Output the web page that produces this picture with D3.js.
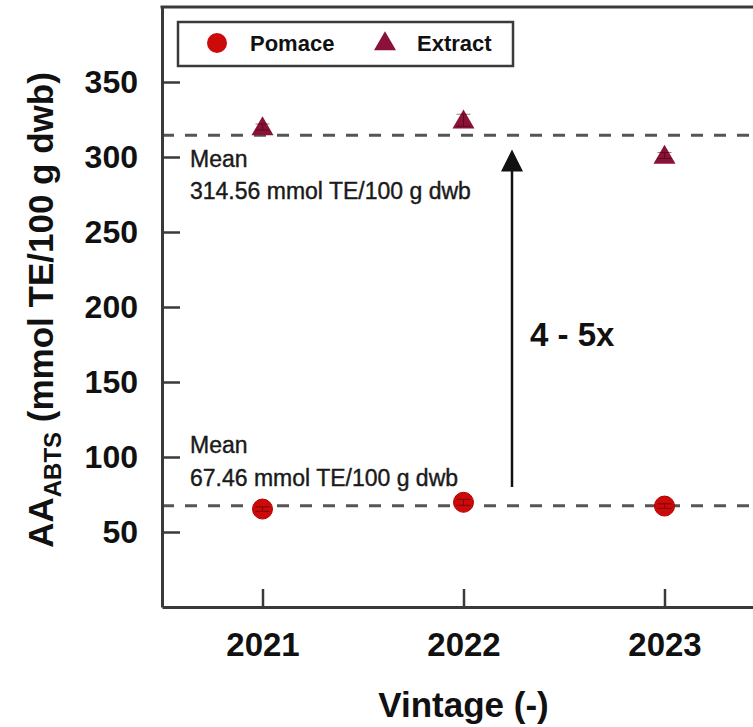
<!DOCTYPE html>
<html>
<head>
<meta charset="utf-8">
<script src="https://cdn.jsdelivr.net/npm/d3@7"></script>
<style>
  html, body { margin: 0; padding: 0; background: #fff; }
  svg { display: block; }
  text { font-family: "Liberation Sans", Arial, sans-serif; }
</style>
</head>
<body>
<svg id="chart" width="753" height="727"></svg>
<script>
// ---- data ----
const vintages = [2021, 2022, 2023];
const pomaceValues = [65.3, 69.8, 67.3];
const pomaceErrors = [1.5, 2, 1.5];
const extractValues = [320, 324.5, 301];
const extractErrors = [2, 4, 2];
const pomaceMean = 67.46;
const extractMean = 314.56;
const yTicks = [50, 100, 150, 200, 250, 300, 350];
const seriesNames = ["Pomace", "Extract"];
const arrowFrom = 80, arrowTo = 305;

// ---- layout ----
const svg = d3.select("#chart");
const pLeft = 162, pRight = 765, pTop = 7, pBottom = 607;
const x = d3.scaleLinear().domain([2020.5, 2023.5]).range([pLeft, pRight]);
const y = d3.scaleLinear().domain([0, 400]).range([pBottom, pTop]);
const axisColor = "#3a3a3a";
const pomaceColor = "#cc0a0a";
const extractColor = "#8a1238";

// mean dashed lines
[pomaceMean, extractMean].forEach(m => {
  svg.append("line")
    .attr("x1", pLeft).attr("x2", 753)
    .attr("y1", y(m)).attr("y2", y(m))
    .attr("stroke", "#555").attr("stroke-width", 3)
    .attr("stroke-dasharray", "12 11");
});

// axes
const yAxis = d3.axisLeft(y).tickValues(yTicks).tickSize(-18).tickSizeOuter(0).tickPadding(24);
const gy = svg.append("g").attr("transform", `translate(${pLeft},0)`).call(yAxis);
gy.selectAll("text").attr("font-size", 32).attr("font-weight", "bold").attr("fill", "#111")
  .style("font-family", "'Liberation Sans', Arial, sans-serif");

const xAxis = d3.axisBottom(x).tickValues(vintages).tickFormat(d3.format("d")).tickSize(-18).tickSizeOuter(0).tickPadding(26);
const gx = svg.append("g").attr("transform", `translate(0,${pBottom})`).call(xAxis);
gx.selectAll("text").attr("font-size", 33).attr("font-weight", "bold").attr("fill", "#111")
  .style("font-family", "'Liberation Sans', Arial, sans-serif");

[gx, gy].forEach(g => {
  g.select(".domain").attr("stroke", axisColor).attr("stroke-width", 3);
  g.selectAll(".tick line").attr("stroke", axisColor).attr("stroke-width", 2.5);
});

// top frame
svg.append("line").attr("x1", pLeft - 1.5).attr("x2", pRight).attr("y1", pTop).attr("y2", pTop)
  .attr("stroke", axisColor).attr("stroke-width", 3);

// axis titles
svg.append("text")
  .attr("x", x(2022)).attr("y", 717)
  .attr("text-anchor", "middle").attr("font-size", 35).attr("font-weight", "bold").attr("fill", "#111")
  .text("Vintage (-)");

const yt = svg.append("text")
  .attr("transform", `translate(53,${(80 + 540) / 2}) rotate(-90)`)
  .attr("text-anchor", "middle").attr("font-size", 35).attr("font-weight", "bold").attr("fill", "#111");
yt.append("tspan").text("AA");
yt.append("tspan").attr("font-size", 24).attr("dy", 8).text("ABTS");
yt.append("tspan").attr("dy", -8).text(" (mmol TE/100 g dwb)");

// arrow
svg.append("line")
  .attr("x1", 512).attr("x2", 512)
  .attr("y1", y(arrowFrom)).attr("y2", y(arrowTo) + 20)
  .attr("stroke", "#111").attr("stroke-width", 2.5);
const tipY = y(arrowTo);
svg.append("path")
  .attr("d", `M512,${tipY} L${512 - 11},${tipY + 22} L${512 + 11},${tipY + 22} Z`)
  .attr("fill", "#111");
svg.append("text").attr("x", 530).attr("y", 346)
  .attr("font-size", 33).attr("font-weight", "bold").attr("fill", "#111")
  .text("4 - 5x");

// mean annotations
function meanLabel(val, y1, y2) {
  svg.append("text").attr("x", 190).attr("y", y1).attr("font-size", 23).attr("fill", "#1a1a1a")
    .attr("stroke", "#1a1a1a").attr("stroke-width", 0.4).text("Mean");
  svg.append("text").attr("x", 190).attr("y", y2).attr("font-size", 23).attr("fill", "#1a1a1a")
    .attr("stroke", "#1a1a1a").attr("stroke-width", 0.4)
    .text(`${val.toFixed(2)} mmol TE/100 g dwb`);
}
meanLabel(extractMean, 167, 199);
meanLabel(pomaceMean, 453, 486);

// markers
const tri = d3.symbol().type(d3.symbolTriangle).size(210);
const pts = vintages.map((v, i) => ({ v, p: pomaceValues[i], pe: pomaceErrors[i], e: extractValues[i], ee: extractErrors[i] }));

svg.selectAll(".pom").data(pts).enter().append("circle")
  .attr("cx", d => x(d.v)).attr("cy", d => y(d.p)).attr("r", 10)
  .attr("fill", pomaceColor).attr("stroke", "#b00000").attr("stroke-width", 1);

svg.selectAll(".ext").data(pts).enter().append("path")
  .attr("d", tri)
  .attr("transform", d => `translate(${x(d.v)},${y(d.e) + 2})`)
  .attr("fill", extractColor);

// error bars
function errBars(getV, getE) {
  pts.forEach(d => {
    const cx = x(d.v), y1 = y(getV(d) + getE(d)), y2 = y(getV(d) - getE(d));
    const g = svg.append("g").attr("stroke", "#300").attr("stroke-width", 1).attr("opacity", 0.5);
    g.append("line").attr("x1", cx).attr("x2", cx).attr("y1", y1).attr("y2", y2);
    g.append("line").attr("x1", cx - 7).attr("x2", cx + 7).attr("y1", y1).attr("y2", y1);
    g.append("line").attr("x1", cx - 7).attr("x2", cx + 7).attr("y1", y2).attr("y2", y2);
  });
}
errBars(d => d.p, d => d.pe);
errBars(d => d.e, d => d.ee);

// legend
const lg = svg.append("g");
lg.append("rect").attr("x", 178).attr("y", 22).attr("width", 335).attr("height", 44)
  .attr("fill", "#fff").attr("stroke", axisColor).attr("stroke-width", 2.5);
lg.append("circle").attr("cx", 217).attr("cy", 43).attr("r", 10).attr("fill", pomaceColor);
lg.append("text").attr("x", 250).attr("y", 51).attr("font-size", 22).attr("font-weight", "bold").attr("fill", "#111").text(seriesNames[0]);
lg.append("path").attr("d", tri).attr("transform", "translate(385,44)").attr("fill", extractColor);
lg.append("text").attr("x", 417).attr("y", 51).attr("font-size", 22).attr("font-weight", "bold").attr("fill", "#111").text(seriesNames[1]);
</script>
</body>
</html>
